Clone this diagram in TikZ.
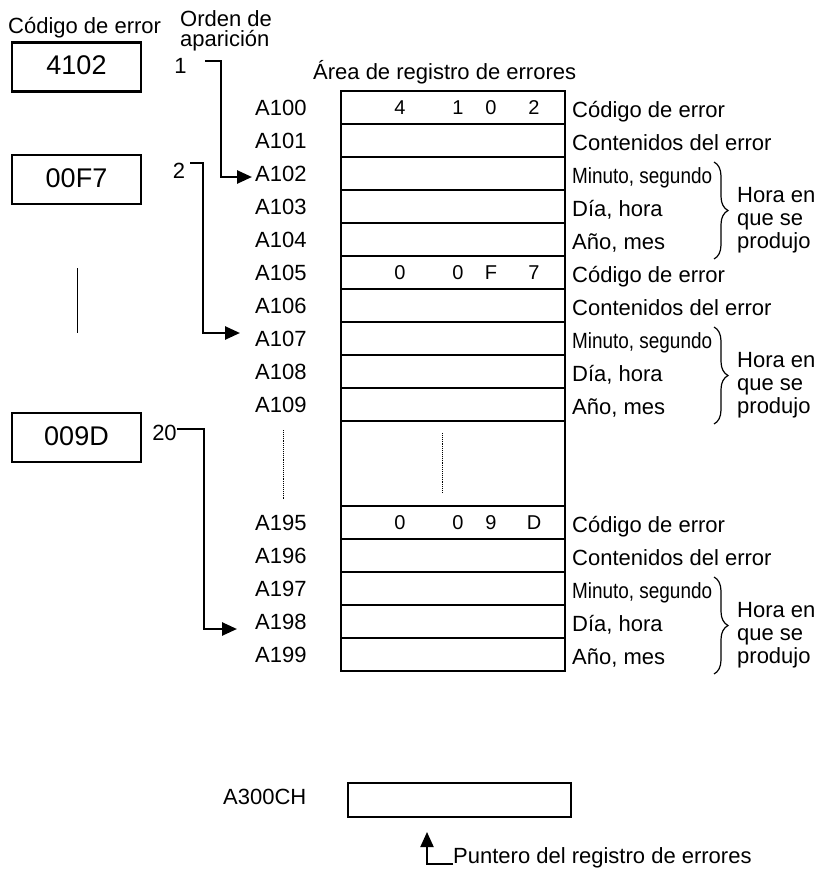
\documentclass[tikz,border=0pt]{standalone}
\usepackage{fontspec}
\setmainfont{Liberation Sans}
\usepackage{graphicx}
\usetikzlibrary{arrows.meta,decorations.pathreplacing}
\begin{document}
\begin{tikzpicture}[x=1pt,y=-1pt,
  every node/.style={inner sep=0pt},
  txt/.style={font=\fontsize{22}{23}\selectfont, text height=15.8pt, text depth=0pt, anchor=west},
  dig/.style={font=\fontsize{20}{20}\selectfont, text height=14.3pt, text depth=0pt},
  row/.style={draw, line width=2pt, minimum width=224pt, minimum height=33pt},
  lbox/.style={draw, line width=2.8pt, minimum width=129pt, minimum height=49pt,
    font=\fontsize{27}{27}\selectfont, text height=19.3pt, text depth=4pt},
  arr/.style={line width=2.6pt, -{Triangle[length=15pt,width=13pt]}},
  brc/.style={decorate, decoration={brace, amplitude=14pt}, line width=1.2pt},
  vdots/.style={densely dotted, line width=0.9pt},
  multi/.style={align=left, anchor=west, font=\fontsize{22}{23}\selectfont},
]
\useasboundingbox (0,0) rectangle (818,873);

% headers
\node[txt] (hcod) at (8,25.4) {Código de error};
\node[multi, font=\fontsize{22}{20}\selectfont] (hord) at (180,31) {Orden de\\aparición};
\node[txt] (harea) at (313,72) {Área de registro de errores};

% left error code boxes
\node[lbox] (e1) at (76.5,67) {4102};
\node[lbox] (e2) at (76.5,179.5) {00F7};
\node[lbox] (e20) at (76.5,437.5) {009D};
\draw[line width=1pt] (77,268) -- (77,333);

% order labels
\node[txt, anchor=center] (o1) at (180.5,65.8) {1};
\node[txt, anchor=center] (o2) at (179,171) {2};
\node[txt, anchor=center] (o20) at (164.5,433) {20};

% table rows A100-A109
\foreach \i in {0,...,9}{
  \node[row] (r10\i) at (453,{107.5+33*\i}) {};
  \node[txt] (l10\i) at (255,{107.5+33*\i}) {A10\i};
}
% gap
\node[row, minimum height=85pt] (gap) at (453,463.5) {};
\draw[vdots] (442,433) -- (442,493);
\draw[vdots] (283,430) -- (283,500);
% rows A195-A199
\foreach \k in {5,...,9}{
  \node[row] (r19\k) at (453,{522.5+33*(\k-5)}) {};
  \node[txt] (l19\k) at (255,{522.5+33*(\k-5)}) {A19\k};
}

% digits
\node[dig] (d100a) at (400,107.5) {4};
\node[dig] (d100b) at (458,107.5) {1};
\node[dig] (d100c) at (491,107.5) {0};
\node[dig] (d100d) at (534,107.5) {2};
\node[dig] (d105a) at (400,272.5) {0};
\node[dig] (d105b) at (458,272.5) {0};
\node[dig] (d105c) at (491,272.5) {F};
\node[dig] (d105d) at (534,272.5) {7};
\node[dig] (d195a) at (400,522.5) {0};
\node[dig] (d195b) at (458,522.5) {0};
\node[dig] (d195c) at (491,522.5) {9};
\node[dig] (d195d) at (534,522.5) {D};

% right-hand descriptions
\foreach \g/\y in {a/107.5,b/272.5,c/522.5}{
  \node[txt] (cod\g) at (572,{\y+2}) {Código de error};
  \node[txt] (con\g) at (572,{\y+35}) {Contenidos del error};
  \node[txt] (min\g) at (572,{\y+68}) {\scalebox{0.86}[1]{Minuto, segundo}};
  \node[txt] (dia\g) at (572,{\y+101}) {Día, hora};
  \node[txt] (ano\g) at (572,{\y+134}) {Año, mes};
  \draw[brc] (714,{\y+54.5}) -- (714,{\y+151.5});
  \node[multi] (hora\g) at (737,{\y+112.8}) {Hora en\\que se\\produjo};
}

% arrows from order numbers
\coordinate (s1) at (205,61);  \coordinate (t1) at (252,177);
\draw[arr] (s1) -- ++(16,0) |- (t1);
\coordinate (s2) at (190,163); \coordinate (t2) at (240,333);
\draw[arr] (s2) -- ++(13,0) |- (t2);
\coordinate (s20) at (177,429); \coordinate (t20) at (237,629);
\draw[arr] (s20) -- ++(27,0) |- (t20);

% pointer
\node[txt] (a300) at (223,797) {A300CH};
\node[draw, line width=1.4pt, minimum width=223pt, minimum height=34pt] (pbox) at (459.5,800) {};
\node[txt] (ptr) at (453,856) {Puntero del registro de errores};
\coordinate (pt) at (427,832);
\draw[arr, line width=2pt] (ptr.base west) -| (pt);
\end{tikzpicture}
\end{document}
